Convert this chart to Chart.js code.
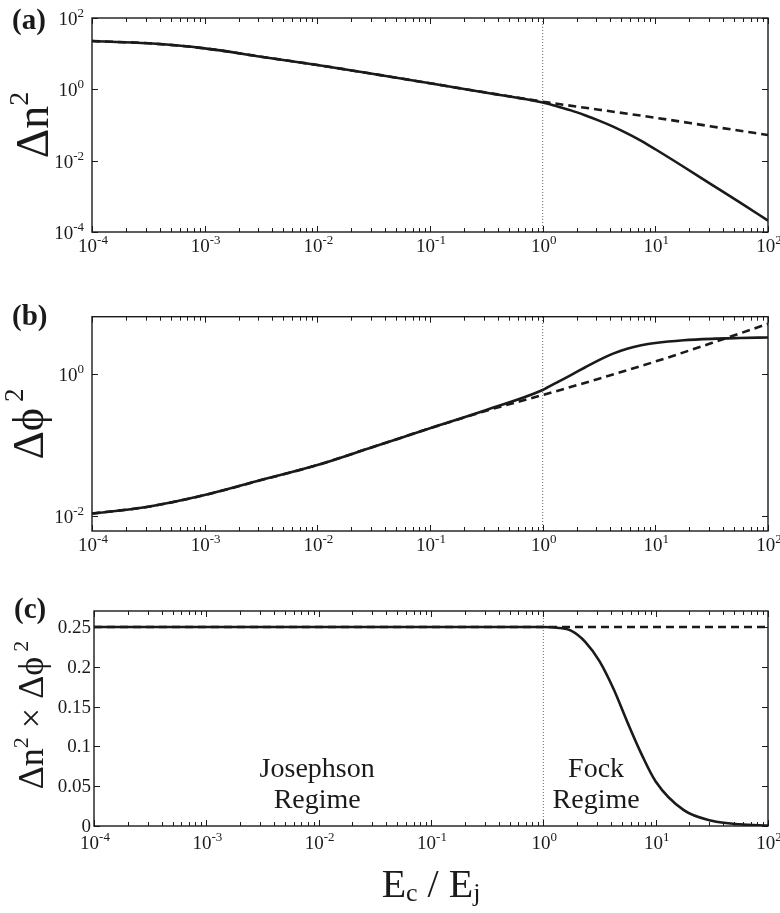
<!DOCTYPE html>
<html>
<head>
<meta charset="utf-8">
<script src="https://cdn.jsdelivr.net/npm/chart.js@4"></script>
<style>
  html, body { margin: 0; padding: 0; background: #fff; }
  #wrap { position: relative; width: 780px; height: 913px; }
  canvas { position: absolute; left: 0; }
</style>
</head>
<body>
<div id="wrap">
  <canvas id="panelA" width="780" height="275" style="top:0px"></canvas>
  <canvas id="panelB" width="780" height="290" style="top:275px"></canvas>
  <canvas id="panelC" width="780" height="348" style="top:565px"></canvas>
</div>
<script>
// E_c / E_j sample points (full calculation)
const ecEj = [1e-4, 3.16e-4, 1e-3, 3.16e-3, 1e-2, 3.16e-2, 0.1, 0.316, 1, 1.33, 1.78, 2.37, 3.16, 4.22, 5.62, 7.5, 10, 17.8, 31.6, 56.2, 100];
const dn2Full   = [22.6, 19.5, 14.1, 8.22, 4.81, 2.69, 1.48, 0.805, 0.427, 0.335, 0.257, 0.188, 0.133, 0.0902, 0.0582, 0.0359, 0.0209, 0.00676, 0.00214, 0.000676, 0.000209];
const dphi2Full = [0.0109, 0.0136, 0.0198, 0.0321, 0.0522, 0.0944, 0.171, 0.309, 0.590, 0.750, 0.955, 1.22, 1.55, 1.91, 2.24, 2.50, 2.69, 2.94, 3.08, 3.16, 3.22];
const prodFull  = [0.25, 0.25, 0.25, 0.25, 0.25, 0.25, 0.25, 0.25, 0.25, 0.249, 0.245, 0.231, 0.207, 0.172, 0.130, 0.090, 0.056, 0.0199, 0.0066, 0.0021, 0.00067];

// harmonic (Josephson) approximation, dashed
const ecEjHarm = [1e-4, 3.16e-4, 1e-3, 3.16e-3, 1e-2, 3.16e-2, 0.1, 0.316, 1, 3.16, 10, 31.6, 100];
const dn2Harm   = [22.6, 19.5, 14.1, 8.22, 4.81, 2.69, 1.48, 0.81, 0.451, 0.269, 0.160, 0.0912, 0.0525];
const dphi2Harm = [0.0109, 0.0136, 0.0198, 0.0321, 0.0522, 0.0944, 0.171, 0.302, 0.501, 0.85, 1.48, 2.69, 5.01];
const ecEjEnds  = [1e-4, 100];
const prodHarm  = [0.25, 0.25];

// axis limits and ticks
const xRange = [1e-4, 100];
const yRangeA = [1e-4, 100];
const yRangeB = [0.0062, 6.3];
const yRangeC = [0, 0.27];
const yTicksA = [1e-4, 1e-2, 1, 100];
const yTicksB = [1e-2, 1];
const yTicksC = [0, 0.05, 0.1, 0.15, 0.2, 0.25];
const xTickLabels = ['-4', '-3', '-2', '-1', '0', '1', '2'];

const serif = '"Liberation Serif", "Times New Roman", serif';
const ink = '#1a1a1a';

function pts(xs, ys) {
  return xs.map((x, i) => ({ x: x, y: ys[i] }));
}

// draw runs of text (with sub/superscripts) starting at x, baseline y
function drawRuns(ctx, runs, x, y, align) {
  let total = 0;
  runs.forEach(r => {
    ctx.font = (r.bold ? 'bold ' : '') + r.size + 'px ' + serif;
    r.w = ctx.measureText(r.t).width;
    total += r.w + (r.gap || 0);
  });
  let cx = align === 'center' ? x - total / 2 : align === 'right' ? x - total : x;
  ctx.textAlign = 'left';
  ctx.textBaseline = 'alphabetic';
  runs.forEach(r => {
    ctx.font = (r.bold ? 'bold ' : '') + r.size + 'px ' + serif;
    cx += (r.gap || 0);
    ctx.fillText(r.t, cx, y - (r.rise || 0));
    cx += r.w;
  });
}

function pow10(exp, size) {
  return [{ t: '10', size: size }, { t: exp, size: Math.round(size * 0.66), rise: size * 0.42 }];
}

const panelDeco = {
  id: 'panelDeco',
  afterDatasetsDraw(chart, args, opts) {
    const ctx = chart.ctx;
    const a = chart.chartArea;
    const xs = chart.scales.x, ys = chart.scales.y;
    ctx.save();
    ctx.strokeStyle = ink;
    ctx.fillStyle = ink;

    // x ticks, major and minor, pointing inward on top and bottom
    ctx.lineWidth = 1;
    ctx.beginPath();
    for (let d = -4; d <= 2; d++) {
      for (let k = 1; k <= 9; k++) {
        const v = k * Math.pow(10, d);
        if (v > xRange[1] * 1.0001) break;
        const px = Math.round(xs.getPixelForValue(v)) + 0.5;
        const len = k === 1 ? 6 : 4;
        ctx.moveTo(px, a.bottom); ctx.lineTo(px, a.bottom - len);
        ctx.moveTo(px, a.top); ctx.lineTo(px, a.top + len);
      }
    }
    // y ticks on left and right
    opts.yTicks.forEach(v => {
      const py = Math.round(ys.getPixelForValue(v)) + 0.5;
      ctx.moveTo(a.left, py); ctx.lineTo(a.left + 6, py);
      ctx.moveTo(a.right, py); ctx.lineTo(a.right - 6, py);
    });
    ctx.stroke();

    // frame
    ctx.lineWidth = 1.4;
    ctx.strokeRect(a.left, a.top, a.right - a.left, a.bottom - a.top);

    // x tick labels
    xTickLabels.forEach(e => {
      const px = xs.getPixelForValue(Math.pow(10, Number(e)));
      drawRuns(ctx, pow10(e, 19), px + 1, a.bottom + opts.xLabelDrop, 'center');
    });

    // y tick labels
    opts.yTicks.forEach(v => {
      const py = ys.getPixelForValue(v);
      if (opts.logY) {
        drawRuns(ctx, pow10(String(Math.round(Math.log10(v))), 19), a.left - 8, py + 7, 'right');
      } else {
        drawRuns(ctx, [{ t: String(v), size: 19 }], a.left - 3, py + 6, 'right');
      }
    });

    // panel letter
    drawRuns(ctx, [{ t: opts.letter, size: 29, bold: true }], opts.letterPos[0], opts.letterPos[1], 'left');

    // rotated y-axis title
    ctx.save();
    ctx.translate(opts.titlePos[0], opts.titlePos[1]);
    ctx.rotate(-Math.PI / 2);
    drawRuns(ctx, opts.title, 0, 0, 'center');
    ctx.restore();

    // free text labels placed in data coordinates
    (opts.notes || []).forEach(n => {
      drawRuns(ctx, [{ t: n.t, size: 28 }], xs.getPixelForValue(n.x), ys.getPixelForValue(n.y), 'center');
    });

    // x-axis title
    if (opts.xTitle) {
      drawRuns(ctx, opts.xTitle, (a.left + a.right) / 2, a.bottom + 71, 'center');
    }
    ctx.restore();
  }
};

function solid(data) {
  return { data: data, borderColor: ink, borderWidth: 2.6, pointRadius: 0, fill: false, cubicInterpolationMode: 'monotone' };
}
function dashed(data) {
  return { data: data, borderColor: ink, borderWidth: 2.6, borderDash: [8, 5], pointRadius: 0, fill: false, cubicInterpolationMode: 'monotone' };
}
function divider(yr) {
  return { data: [{ x: 1, y: yr[0] }, { x: 1, y: yr[1] }], borderColor: '#666', borderWidth: 1, borderDash: [1, 2], pointRadius: 0, fill: false };
}

function makePanel(id, cfg) {
  new Chart(document.getElementById(id), {
    type: 'line',
    data: { datasets: cfg.datasets },
    plugins: [panelDeco],
    options: {
      responsive: false,
      animation: false,
      layout: { padding: { top: cfg.padTop, right: 12, bottom: 0, left: 0 } },
      plugins: {
        legend: { display: false },
        tooltip: { enabled: false },
        panelDeco: cfg.deco
      },
      scales: {
        x: {
          type: 'logarithmic', min: xRange[0], max: xRange[1],
          grid: { display: false }, border: { display: false }, ticks: { display: false },
          afterFit: s => { s.height = cfg.xHeight; }
        },
        y: {
          type: cfg.logY ? 'logarithmic' : 'linear', min: cfg.yRange[0], max: cfg.yRange[1],
          grid: { display: false }, border: { display: false }, ticks: { display: false },
          afterFit: s => { s.width = cfg.yWidth; }
        }
      }
    }
  });
}

makePanel('panelA', {
  padTop: 18, xHeight: 43, yWidth: 92, logY: true, yRange: yRangeA,
  datasets: [solid(pts(ecEj, dn2Full)), dashed(pts(ecEjHarm, dn2Harm)), divider(yRangeA)],
  deco: {
    letter: '(a)', letterPos: [12, 29], yTicks: yTicksA, logY: true, xLabelDrop: 20,
    titlePos: [48, 125],
    title: [{ t: 'Δn', size: 46 }, { t: '2', size: 28, rise: 20 }]
  }
});

makePanel('panelB', {
  padTop: 41.7, xHeight: 34, yWidth: 92, logY: true, yRange: yRangeB,
  datasets: [solid(pts(ecEj, dphi2Full)), dashed(pts(ecEjHarm, dphi2Harm)), divider(yRangeB)],
  deco: {
    letter: '(b)', letterPos: [12, 50], yTicks: yTicksB, logY: true, xLabelDrop: 20,
    titlePos: [43, 149],
    title: [{ t: 'Δϕ', size: 44 }, { t: '2', size: 27, rise: 20, gap: 6 }]
  }
});

makePanel('panelC', {
  padTop: 46, xHeight: 87, yWidth: 94, logY: false, yRange: yRangeC,
  datasets: [solid(pts(ecEj, prodFull)), dashed(pts(ecEjEnds, prodHarm)), divider(yRangeC)],
  deco: {
    letter: '(c)', letterPos: [14, 53], yTicks: yTicksC, logY: false, xLabelDrop: 23,
    titlePos: [43, 150],
    title: [{ t: 'Δn', size: 36 }, { t: '2', size: 22, rise: 15 }, { t: ' × Δϕ', size: 36 }, { t: '2', size: 22, rise: 15, gap: 5 }],
    notes: [
      { t: 'Josephson', x: 0.0097, y: 0.062 }, { t: 'Regime', x: 0.0097, y: 0.022 },
      { t: 'Fock', x: 2.95, y: 0.062 }, { t: 'Regime', x: 2.95, y: 0.022 }
    ],
    xTitle: [{ t: 'E', size: 40 }, { t: 'c', size: 26, rise: -4 }, { t: ' / ', size: 40 }, { t: 'E', size: 40 }, { t: 'j', size: 26, rise: -4 }]
  }
});
</script>
</body>
</html>
